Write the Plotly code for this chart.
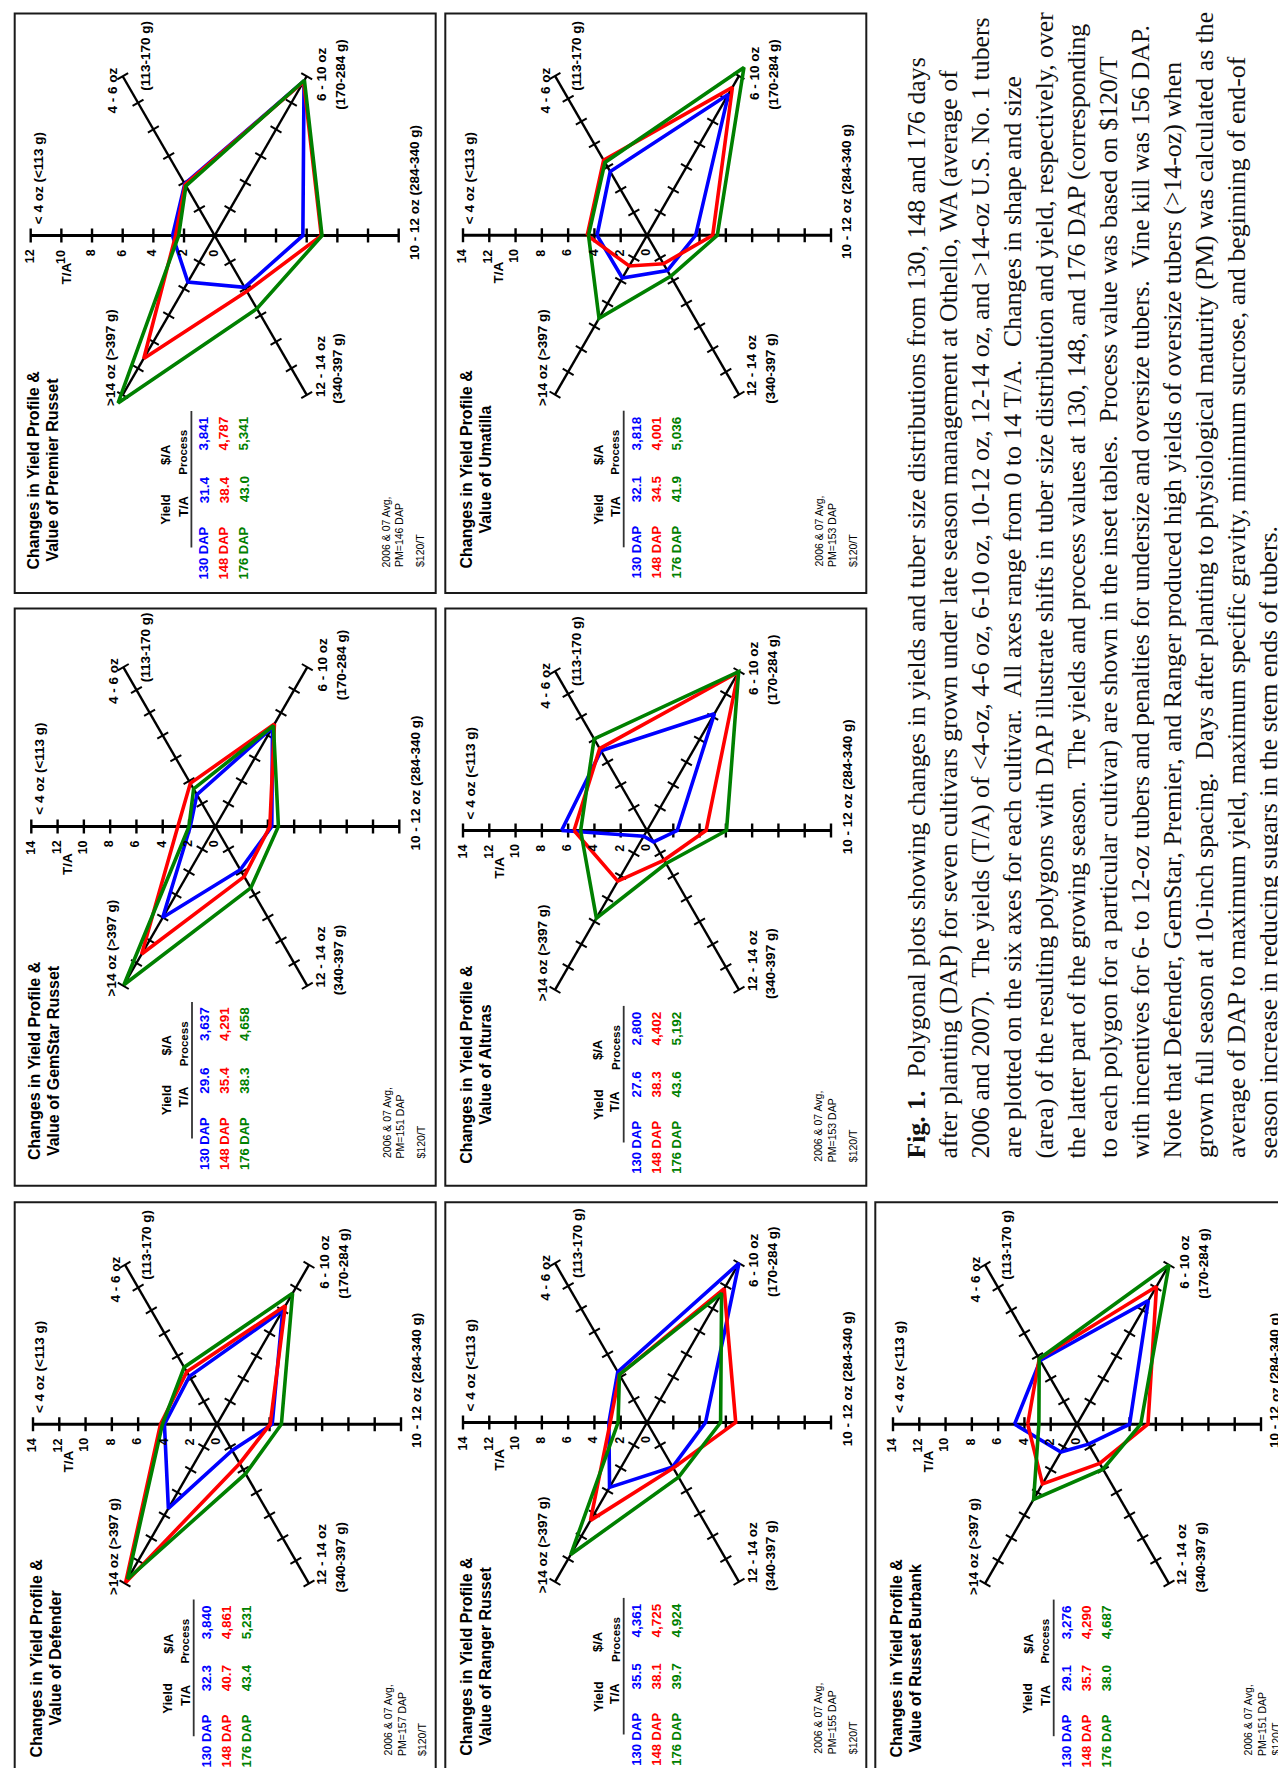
import plotly.graph_objects as go
import numpy as np

# ---------------- data (T/A per tuber size class) ----------------
# order of size classes: <4 oz, 4-6 oz, 6-10 oz, 10-12 oz, 12-14 oz, >14 oz
SIZE_CLASS = ["< 4 oz", "4 - 6 oz", "6 - 10 oz", "10 - 12 oz", "12 - 14 oz", ">14 oz"]
DAP_LABELS = ["130 DAP", "148 DAP", "176 DAP"]

PREMIER_130 = [2.75, 3.9, 11.65, 5.75, 3.9, 3.5]
PREMIER_148 = [2.55, 3.85, 11.6, 6.95, 4.2, 9.25]
PREMIER_176 = [2.35, 3.75, 11.7, 7.0, 5.5, 12.6]
PREMIER_YIELD = ["31.4", "38.4", "43.0"]
PREMIER_VALUE = ["3,841", "4,787", "5,341"]

GEMSTAR_130 = [1.9, 2.8, 8.7, 4.3, 3.8, 8.0]
GEMSTAR_148 = [2.85, 3.8, 9.0, 4.15, 4.4, 11.2]
GEMSTAR_176 = [2.0, 3.3, 8.85, 4.8, 5.4, 13.9]
GEMSTAR_YIELD = ["29.6", "35.4", "38.3"]
GEMSTAR_VALUE = ["3,637", "4,291", "4,658"]

DEFENDER_130 = [4.0, 4.2, 10.0, 4.2, 2.3, 7.4]
DEFENDER_148 = [4.3, 4.6, 10.4, 4.05, 3.45, 13.9]
DEFENDER_176 = [4.15, 5.0, 11.5, 4.9, 4.35, 13.6]
DEFENDER_YIELD = ["32.3", "40.7", "43.4"]
DEFENDER_VALUE = ["3,840", "4,861", "5,231"]

UMATILLA_130 = [3.8, 5.6, 12.4, 3.7, 3.1, 3.75]
UMATILLA_148 = [4.55, 6.6, 13.0, 5.0, 2.5, 2.7]
UMATILLA_176 = [4.45, 6.4, 14.75, 5.35, 3.6, 7.3]
UMATILLA_YIELD = ["32.1", "34.5", "41.9"]
UMATILLA_VALUE = ["3,818", "4,001", "5,036"]

ALTURAS_130 = [6.5, 7.0, 10.25, 2.3, 1.0, 0.5]
ALTURAS_148 = [5.55, 7.2, 13.9, 4.5, 2.6, 4.45]
ALTURAS_176 = [5.05, 8.05, 13.95, 6.05, 2.9, 7.7]
ALTURAS_YIELD = ["27.6", "38.3", "43.6"]
ALTURAS_VALUE = ["2,800", "4,402", "5,192"]

RANGER_130 = [2.9, 4.45, 14.0, 4.45, 3.9, 5.7]
RANGER_148 = [2.8, 4.2, 11.75, 6.75, 4.0, 8.6]
RANGER_176 = [2.2, 4.2, 11.35, 5.6, 4.8, 11.6]
RANGER_YIELD = ["35.5", "38.1", "39.7"]
RANGER_VALUE = ["4,361", "4,725", "4,924"]

BURBANK_130 = [4.75, 5.6, 10.85, 4.0, 1.75, 2.45]
BURBANK_148 = [3.75, 5.75, 12.1, 5.4, 3.45, 5.25]
BURBANK_176 = [2.9, 5.75, 14.0, 4.85, 3.95, 6.6]
BURBANK_YIELD = ["29.1", "35.7", "38.0"]
BURBANK_VALUE = ["3,276", "4,290", "4,687"]

TICKS_14 = [14, 12, 10, 8, 6, 4, 2, 0]
TICKS_12 = [12, 10, 8, 6, 4, 2, 0]

CAPTION = [
    "<b>Fig. 1.</b>\u00a0 Polygonal plots showing changes in yields and tuber size distributions from 130, 148 and 176 days",
    "after planting (DAP) for seven cultivars grown under late season management at Othello, WA (average of",
    "2006 and 2007).\u00a0 The yields (T/A) of &lt;4-oz, 4-6 oz, 6-10 oz, 10-12 oz, 12-14 oz, and &gt;14-oz U.S. No. 1 tubers",
    "are plotted on the six axes for each cultivar.\u00a0 All axes range from 0 to 14 T/A.\u00a0 Changes in shape and size",
    "(area) of the resulting polygons with DAP illustrate shifts in tuber size distribution and yield, respectively, over",
    "the latter part of the growing season.\u00a0 The yields and process values at 130, 148, and 176 DAP (corresponding",
    "to each polygon for a particular cultivar) are shown in the inset tables.\u00a0 Process value was based on $120/T",
    "with incentives for 6- to 12-oz tubers and penalties for undersize and oversize tubers.\u00a0 Vine kill was 156 DAP.",
    "Note that Defender, GemStar, Premier, and Ranger produced high yields of oversize tubers (&gt;14-oz) when",
    "grown full season at 10-inch spacing.\u00a0 Days after planting to physiological maturity (PM) was calculated as the",
    "average of DAP to maximum yield, maximum specific gravity, minimum sucrose, and beginning of end-of",
    "season increase in reducing sugars in the stem ends of tubers.",
]

# ---------------- layout / style ----------------
W, H = 1286, 1768
ANGLES = [180, 120, 60, 0, -60, -120]
COLORS = ["#0000ff", "#ff0000", "#008000"]
SANS = "Liberation Sans, Arial, Helvetica, sans-serif"
SERIF = "Liberation Serif, Times New Roman, serif"
SPOKE_PX = 184.0
LBL = 13.5  # axis-label font size

# pieces of the 10-12 oz label with their start offsets (em, bold Arial metrics);
# used for the panel that touches the right page edge
LABEL_1012_PIECES = [("10 -", 0.0), ("12", 2.001), ("oz", 3.391), ("(284-", 4.780),
                     ("340", 7.114), ("g)", 9.060)]

COLS = [(6.7, 427.7), (437.3, 858.3), (867.3, 1288.3)]
ROWS = [(5.6, 585.1), (600.5, 1177.7), (1194.3, 1773.8)]

panels = [
    dict(name="Premier Russet", series=[PREMIER_130, PREMIER_148, PREMIER_176],
         yld=PREMIER_YIELD, val=PREMIER_VALUE, pm="PM=146 DAP", ticks=TICKS_12,
         col=0, row=0, center=(206.7, 227.6)),
    dict(name="GemStar Russet", series=[GEMSTAR_130, GEMSTAR_148, GEMSTAR_176],
         yld=GEMSTAR_YIELD, val=GEMSTAR_VALUE, pm="PM=151 DAP", ticks=TICKS_14,
         col=0, row=1, center=(207.3, 818.5)),
    dict(name="Defender", series=[DEFENDER_130, DEFENDER_148, DEFENDER_176],
         yld=DEFENDER_YIELD, val=DEFENDER_VALUE, pm="PM=157 DAP", ticks=TICKS_14,
         col=0, row=2, center=(209.0, 1416.2)),
    dict(name="Umatilla", series=[UMATILLA_130, UMATILLA_148, UMATILLA_176],
         yld=UMATILLA_YIELD, val=UMATILLA_VALUE, pm="PM=153 DAP", ticks=TICKS_14,
         col=1, row=0, center=(639.0, 227.3)),
    dict(name="Alturas", series=[ALTURAS_130, ALTURAS_148, ALTURAS_176],
         yld=ALTURAS_YIELD, val=ALTURAS_VALUE, pm="PM=153 DAP", ticks=TICKS_14,
         col=1, row=1, center=(639.0, 822.5)),
    dict(name="Ranger Russet", series=[RANGER_130, RANGER_148, RANGER_176],
         yld=RANGER_YIELD, val=RANGER_VALUE, pm="PM=155 DAP", ticks=TICKS_14,
         col=1, row=2, center=(639.0, 1414.5)),
    dict(name="Russet Burbank", series=[BURBANK_130, BURBANK_148, BURBANK_176],
         yld=BURBANK_YIELD, val=BURBANK_VALUE, pm="PM=151 DAP", ticks=TICKS_14,
         col=2, row=2, center=(1069.0, 1416.2)),
]

fig = go.Figure()
annotations = []
shapes = []
layout_axes = {}


def refs(n):
    return ("x" if n == 1 else f"x{n}"), ("y" if n == 1 else f"y{n}")


def ann(center, text, dx, dy, size, color="black", bold=True, xa="center", ya="bottom",
        family=SANS):
    """Rotated text placed at pixel offset (dx right, dy down) from a panel centre."""
    cx, cy = center
    annotations.append(dict(
        xref="paper", yref="paper", x=(cx + dx - 1.0) / W, y=1 - (cy + dy) / H,
        text=(f"<b>{text}</b>" if bold else text), showarrow=False, textangle=-90,
        xanchor=xa, yanchor=ya, font=dict(family=family, size=size, color=color)))


for i, p in enumerate(panels):
    n = i + 1
    xr, yr = refs(n)
    rmax = p["ticks"][0]
    k = SPOKE_PX / rmax
    cx, cy = p["center"]
    c = p["center"]
    edge = cx > 1000  # right-most panel touches the page edge
    bx0, bx1 = COLS[p["col"]]
    by0, by1 = ROWS[p["row"]]
    cbx0, cbx1 = max(bx0, 0), min(bx1, W)
    cby0, cby1 = max(by0, 0), min(by1, H)
    layout_axes["xaxis" if n == 1 else f"xaxis{n}"] = dict(
        domain=[cbx0 / W, cbx1 / W], range=[(cbx0 - cx) / k, (cbx1 - cx) / k],
        visible=False, fixedrange=True, anchor=yr)
    layout_axes["yaxis" if n == 1 else f"yaxis{n}"] = dict(
        domain=[1 - cby1 / H, 1 - cby0 / H], range=[(cy - cby1) / k, (cy - cby0) / k],
        visible=False, fixedrange=True, anchor=xr)

    # panel frame
    shapes.append(dict(type="rect", xref="paper", yref="paper",
                       x0=bx0 / W, x1=bx1 / W, y0=1 - by1 / H, y1=1 - by0 / H,
                       line=dict(color="#1a1a1a", width=2), layer="below"))

    # spokes
    fig.add_trace(go.Scatter(x=[-rmax, rmax], y=[0, 0], xaxis=xr, yaxis=yr, mode="lines",
                             line=dict(color="black", width=3), hoverinfo="skip", showlegend=False))
    dxs, dys = [], []
    for a in ANGLES:
        if a in (0, 180):
            continue
        t = np.deg2rad(a)
        dxs += [0, rmax * np.cos(t), None]
        dys += [0, rmax * np.sin(t), None]
    fig.add_trace(go.Scatter(x=dxs, y=dys, xaxis=xr, yaxis=yr, mode="lines",
                             line=dict(color="black", width=2.4), hoverinfo="skip", showlegend=False))
    # tick marks
    rs = [v for v in p["ticks"] if v > 0]
    hx = [-v for v in rs] + rs
    fig.add_trace(go.Scatter(x=hx, y=[0] * len(hx), xaxis=xr, yaxis=yr, mode="markers",
                             marker=dict(symbol="line-ns-open", size=10, color="black",
                                         line=dict(width=2.4, color="black")),
                             hoverinfo="skip", showlegend=False))
    tx, ty, tang = [], [], []
    for a in ANGLES:
        if a in (0, 180):
            continue
        t = np.deg2rad(a)
        for v in rs:
            tx.append(v * np.cos(t))
            ty.append(v * np.sin(t))
            tang.append((-a) % 180)
    fig.add_trace(go.Scatter(x=tx, y=ty, xaxis=xr, yaxis=yr, mode="markers",
                             marker=dict(symbol="line-ns-open", size=9, color="black", angle=tang,
                                         line=dict(width=2, color="black")),
                             hoverinfo="skip", showlegend=False))

    # polygons
    for vals, col, lab in zip(p["series"], COLORS, DAP_LABELS):
        th = np.deg2rad(ANGLES + [ANGLES[0]])
        rr = np.array(vals + [vals[0]])
        fig.add_trace(go.Scatter(x=rr * np.cos(th), y=rr * np.sin(th), xaxis=xr, yaxis=yr,
                                 mode="lines", line=dict(color=col, width=3.6),
                                 name=f"{p['name']} {lab}", hoverinfo="skip", showlegend=False))

    # title
    ann(c, "Changes in Yield Profile &amp;", -179.8, 234, 16, ya="middle")
    ann(c, f"Value of {p['name']}", -160.7, 234, 16, ya="middle")

    # axis labels
    ann(c, "&lt; 4 oz (&lt;113 g)", -175.7, -9.4, LBL)
    ann(c, "4 - 6 oz", -100.7, -120, LBL)
    ann(c, "(113-170 g)", -69, -142.5, LBL)
    ann(c, "6 - 10 oz", 107.7, -133.1, LBL)
    ann(c, "(170-284 g)", 126.7, -123.7, LBL)
    if edge:
        for piece, off in LABEL_1012_PIECES:
            ann(c, piece, 199, 26.2 - off * LBL, LBL)
    else:
        ann(c, "10 - 12 oz (284-340 g)", 201, 26.2, LBL)
    ann(c, "12 - 14 oz", 106, 163.1, LBL)
    ann(c, "(340-397 g)", 124.3, 170.6, LBL)
    ann(c, "&gt;14 oz (&gt;397 g)", -103.3, 172.5, LBL)
    ann(c, "T/A", -147.3, 50.6, LBL)

    # radial tick labels on the <4 oz axis
    for v in p["ticks"]:
        annotations.append(dict(
            xref=xr, yref=yr, x=-v, y=0, xshift=-1, yshift=-12, text=f"<b>{v}</b>",
            showarrow=False, textangle=-90, xanchor="center", yanchor="top",
            font=dict(family=SANS, size=12.5, color="black")))

    # inset table
    ann(c, "Yield", -48.2, 273.7, 13, ya="middle")
    ann(c, "T/A", -30.7, 270.4, 13, ya="middle")
    ann(c, "$/A", -48.2, 218.8, 13, ya="middle")
    ann(c, "Process", -30.7, 217.1, 11.5, ya="middle")
    for j, col in enumerate(COLORS):
        ddx = -9.8 + 20 * j
        ann(c, DAP_LABELS[j], ddx, 317, 13, color=col, ya="middle")
        ann(c, p["yld"][j], ddx, 253.8, 13.5, color=col, ya="middle")
        ann(c, p["val"][j], ddx, 197.9, 13.5, color=col, ya="middle")
    shapes.append(dict(type="line", xref=xr, yref=yr, xsizemode="pixel", ysizemode="pixel",
                       xanchor=0, yanchor=0, x0=-23.3, x1=-23.3, y0=-175.4, y1=-312,
                       line=dict(color="#333333", width=1.8)))

    # footnote
    ann(c, "2006 &amp; 07 Avg,", 172, 333.7, 10.5, bold=False)
    ann(c, p["pm"], 186, 333.7, 10.5, bold=False)
    ann(c, "$120/T", 200 if edge else 206.5, 333.7, 10.5, bold=False)

# caption (rotated, bottom-to-top)
for i, line in enumerate(CAPTION):
    annotations.append(dict(
        xref="paper", yref="paper", x=(908.5 + 32.0 * i) / W, y=1 - 1152.6 / H,
        text=line, showarrow=False, textangle=-90, xanchor="center", yanchor="bottom",
        font=dict(family=SERIF, size=25.8, color="#111111")))

fig.update_layout(
    width=W, height=H, margin=dict(l=0, r=0, t=0, b=0),
    paper_bgcolor="white", plot_bgcolor="rgba(0,0,0,0)",
    showlegend=False, annotations=annotations, shapes=shapes, **layout_axes)

fig.write_html("out.html")
